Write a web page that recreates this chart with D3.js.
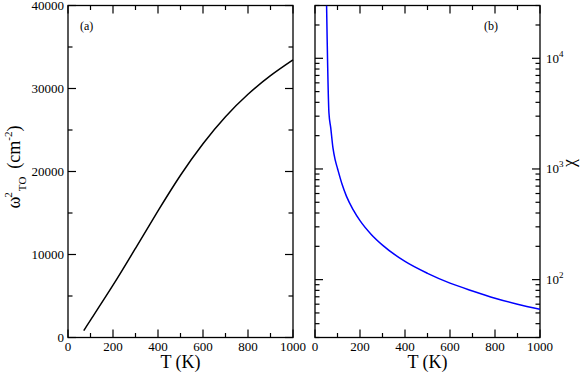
<!DOCTYPE html>
<html>
<head>
<meta charset="utf-8">
<script src="https://cdn.jsdelivr.net/npm/d3@7"></script>
<style>
  body { margin: 0; background: #fff; }
  svg text { font-family: 'Liberation Serif', 'Times New Roman', serif; fill: #000; }
</style>
</head>
<body>
<div id="graph-holder"></div>
<script>
// panel (a): squared TO frequency vs temperature
const tempA = [70, 100, 200, 300, 400, 500, 600, 700, 800, 900, 1000];
const omega2 = [820, 2100, 6300, 10750, 15250, 19550, 23350, 26600, 29300, 31550, 33450];

// panel (b): susceptibility vs temperature
const tempB = [51.5, 62, 70, 80, 90, 100, 120, 140, 170, 200, 250, 300, 400, 500, 600, 700, 800, 900, 1000];
const chi = [30000, 3200, 2350, 1540, 1200, 1010, 730, 565, 427, 341, 256, 205, 146, 114, 93, 79, 68, 60, 54];

const xTicks = [0, 200, 400, 600, 800, 1000];
const yTicksA = [0, 10000, 20000, 30000, 40000];
const yTicksB = [100, 1000, 10000];

const svgWidth = 581,
      svgHeight = 373;

const svg = d3.select('#graph-holder')
              .append('svg')
              .attr('width', svgWidth)
              .attr('height', svgHeight);

const yTop = 5.5, yBottom = 337.5;
const major = 8, minor = 4.5;

function frame(g, x0, x1) {
  g.append('rect')
    .attr('x', x0).attr('y', yTop)
    .attr('width', x1 - x0).attr('height', yBottom - yTop)
    .attr('fill', 'none')
    .attr('stroke', '#000')
    .attr('stroke-width', 1.3);
}

function xTicksFor(g, x) {
  d3.range(0, 1001, 100).forEach(v => {
    const len = v % 200 === 0 ? major : minor;
    g.append('line').attr('x1', x(v)).attr('x2', x(v)).attr('y1', yBottom).attr('y2', yBottom - len);
    g.append('line').attr('x1', x(v)).attr('x2', x(v)).attr('y1', yTop).attr('y2', yTop + len);
  });
  g.selectAll('text.xt')
    .data(xTicks)
    .enter()
    .append('text')
    .attr('class', 'xt')
    .attr('x', d => x(d))
    .attr('y', 351)
    .attr('text-anchor', 'middle')
    .attr('font-size', 13)
    .attr('stroke', 'none')
    .text(d => d);
  g.append('text')
    .attr('x', (x.range()[0] + x.range()[1]) / 2)
    .attr('y', 367.5)
    .attr('text-anchor', 'middle')
    .attr('font-size', 18)
    .attr('stroke', 'none')
    .text('T (K)');
}

// ---- Panel (a)
const xA = d3.scaleLinear().domain([0, 1000]).range([68, 293]);
const yA = d3.scaleLinear().domain([0, 40000]).range([yBottom, yTop]);

const gA = svg.append('g').attr('stroke', '#000').attr('stroke-width', 1.2);
xTicksFor(gA, xA);
d3.range(0, 40001, 5000).forEach(v => {
  const len = v % 10000 === 0 ? major : minor;
  gA.append('line').attr('x1', 68).attr('x2', 68 + len).attr('y1', yA(v)).attr('y2', yA(v));
  gA.append('line').attr('x1', 293).attr('x2', 293 - len).attr('y1', yA(v)).attr('y2', yA(v));
});
gA.selectAll('text.yt')
  .data(yTicksA)
  .enter()
  .append('text')
  .attr('class', 'yt')
  .attr('x', 64)
  .attr('y', d => yA(d) + 4.5)
  .attr('text-anchor', 'end')
  .attr('font-size', 13)
  .attr('stroke', 'none')
  .text(d => d);
frame(gA, 68, 293);

gA.append('path')
  .datum(tempA.map((t, i) => [t, omega2[i]]))
  .attr('fill', 'none')
  .attr('stroke', '#000')
  .attr('stroke-width', 1.5)
  .attr('d', d3.line().x(d => xA(d[0])).y(d => yA(d[1])).curve(d3.curveNatural));

svg.append('text')
  .attr('x', 80).attr('y', 30)
  .attr('font-size', 12)
  .text('(a)');

// y label for (a)
const ylab = svg.append('text')
  .attr('transform', 'translate(20,167) rotate(-90)')
  .attr('text-anchor', 'middle')
  .attr('font-size', 18);
ylab.append('tspan').text('ω');
ylab.append('tspan').attr('font-size', 11).attr('dy', -8).attr('dx', -1).text('2');
ylab.append('tspan').attr('font-size', 11).attr('dy', 14).attr('dx', 1).text('TO');
ylab.append('tspan').attr('dy', -6).attr('dx', 8).text('(cm');
ylab.append('tspan').attr('font-size', 11).attr('dy', -8).text('-2');
ylab.append('tspan').attr('dy', 8).text(')');

// ---- Panel (b)
const xB = d3.scaleLinear().domain([0, 1000]).range([315, 540]);
const yB = d3.scaleLog().domain([30, 30000]).range([yBottom, yTop]);

const gB = svg.append('g').attr('stroke', '#000').attr('stroke-width', 1.2);
xTicksFor(gB, xB);
[10, 100, 1000, 10000].forEach(dec => {
  d3.range(1, 10).forEach(m => {
    const v = dec * m;
    if (v < 30 || v > 30000) return;
    const len = m === 1 ? major : minor;
    gB.append('line').attr('x1', 315).attr('x2', 315 + len).attr('y1', yB(v)).attr('y2', yB(v));
    gB.append('line').attr('x1', 540).attr('x2', 540 - len).attr('y1', yB(v)).attr('y2', yB(v));
  });
});
const yl = gB.selectAll('text.yt')
  .data(yTicksB)
  .enter()
  .append('text')
  .attr('class', 'yt')
  .attr('x', 546)
  .attr('y', d => yB(d) + 4.5)
  .attr('font-size', 13)
  .attr('stroke', 'none');
yl.append('tspan').text('10');
yl.append('tspan').attr('font-size', 9).attr('dy', -6).text(d => Math.round(Math.log10(d)));
frame(gB, 315, 540);

svg.append('defs').append('clipPath').attr('id', 'clipB')
  .append('rect').attr('x', 315).attr('y', yTop).attr('width', 225).attr('height', yBottom - yTop);

svg.append('path')
  .datum(tempB.map((t, i) => [t, chi[i]]))
  .attr('clip-path', 'url(#clipB)')
  .attr('fill', 'none')
  .attr('stroke', '#0000ff')
  .attr('stroke-width', 1.5)
  .attr('d', d3.line().x(d => xB(d[0])).y(d => yB(d[1])).curve(d3.curveMonotoneX));

svg.append('text')
  .attr('x', 484).attr('y', 30)
  .attr('font-size', 12)
  .text('(b)');

svg.append('text')
  .attr('transform', 'translate(575,163) rotate(-90)')
  .attr('text-anchor', 'middle')
  .attr('font-size', 18)
  .text('χ');
</script>
</body>
</html>
